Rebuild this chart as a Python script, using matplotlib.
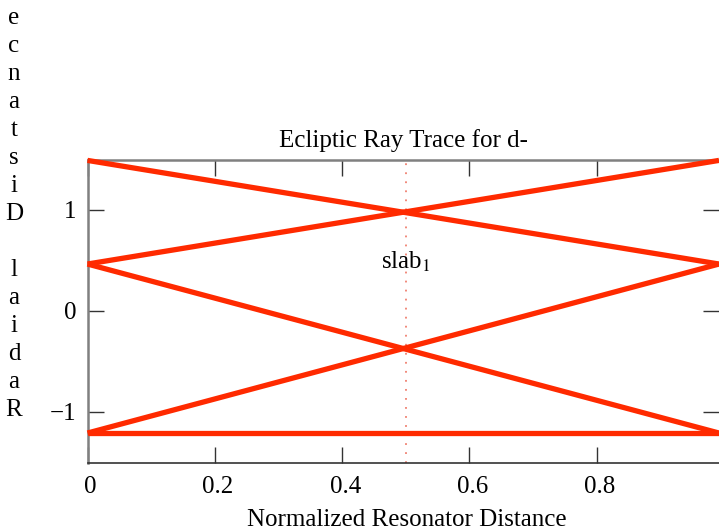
import matplotlib
matplotlib.use("Agg")
import matplotlib.pyplot as plt
import matplotlib.transforms as mtransforms

# Data
x_left = 0.0
x_right = 0.992
left_y = [1.49, 0.463, 0.463, -1.212, -1.212]
right_y = [0.463, 1.49, -1.212, 0.463, -1.212]
slab_x = 0.5
slab_label_y = 0.42
xticks = [0, 0.2, 0.4, 0.6, 0.8]
xtick_labels = ["0", "0.2", "0.4", "0.6", "0.8"]
yticks = [-1, 0, 1]
ytick_labels = ["\u22121", "0", "1"]

plt.rcParams['font.family'] = ['Liberation Serif', 'DejaVu Serif']
plt.rcParams['mathtext.fontset'] = 'stix'

W, H = 719, 531
fig = plt.figure(figsize=(W/100, H/100), dpi=100)
left_px, top_px, bottom_px = 87.5, 160, 463
ax = fig.add_axes([left_px/W, 1-bottom_px/H, 1-left_px/W, (bottom_px-top_px)/H])

red = '#ff2a00'
for ly, ry in zip(left_y, right_y):
    ax.plot([x_left, x_right], [ly, ry], color=red, lw=3.8, solid_capstyle='butt',
            clip_on=False, zorder=3)

ax.axvline(slab_x, color='#f08070', lw=1.3, ls=(0, (1, 4)), zorder=2)
ax.text(slab_x, slab_label_y, r"slab$_1$", ha='center', va='baseline', fontsize=18)

ax.set_xlim(0, x_right)
ax.set_ylim(-1.509, 1.494)
ax.set_xticks(xticks)
ax.set_xticklabels(xtick_labels)
ax.set_yticks(yticks)
ax.set_yticklabels(ytick_labels)
ax.tick_params(axis='both', which='both', direction='in', length=11.5, width=1.0,
               labelsize=18, top=True, right=True, colors='#333333', labelcolor='black')
ax.tick_params(axis='x', pad=9.5)
ax.tick_params(axis='y', pad=8)

offset = mtransforms.ScaledTranslation(3/100, 0, fig.dpi_scale_trans)
for lbl in ax.get_xticklabels():
    lbl.set_transform(lbl.get_transform() + offset)

for s in ['left', 'top']:
    ax.spines[s].set_color('#808080')
    ax.spines[s].set_linewidth(1.8)
ax.spines['bottom'].set_color('#333333')
ax.spines['bottom'].set_linewidth(1.2)
ax.spines['right'].set_visible(False)

ax.set_title("Ecliptic Ray Trace for d-", fontsize=18, pad=9)
ax.set_xlabel("Normalized Resonator Distance", fontsize=18)
ax.xaxis.set_label_coords(0.506, (bottom_px-526)/(bottom_px-top_px))
ax.xaxis.label.set_va('baseline')

ylabel = "Radial Distance"
fig.text(14/W, 1-214/H, "\n".join(reversed(ylabel)), ha='center', va='center',
         fontsize=18, linespacing=1.35)

fig.savefig("out.png", dpi=100)
